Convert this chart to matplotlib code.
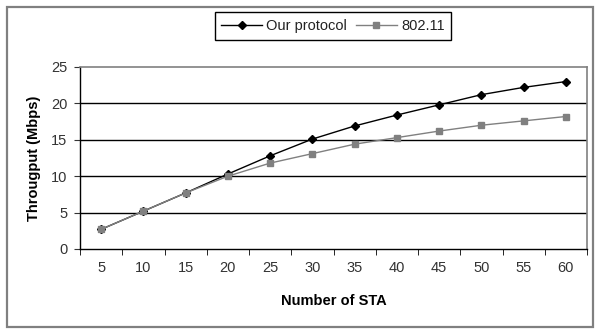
import matplotlib
matplotlib.use('Agg')
import matplotlib.pyplot as plt
from matplotlib.patches import Rectangle
import numpy as np

plt.rcParams['font.family'] = ['Liberation Sans', 'DejaVu Sans']

stations = ['5', '10', '15', '20', '25', '30', '35', '40', '45', '50', '55', '60']
ourProtocol = [2.7, 5.2, 7.7, 10.3, 12.8, 15.1, 16.9, 18.4, 19.8, 21.2, 22.2, 23.0]
ieee80211 = [2.7, 5.2, 7.7, 10.0, 11.8, 13.1, 14.4, 15.3, 16.2, 17.0, 17.6, 18.2]
yTicks = [0, 5, 10, 15, 20, 25]

W, H = 595, 331
fig = plt.figure(figsize=(W / 100, H / 100), dpi=100)
fig.patch.set_facecolor('white')

# outer chart frame
fig.patches.append(Rectangle((7 / W, 4 / H), 586 / W, 320 / H, transform=fig.transFigure,
                             fill=False, edgecolor='#808080', lw=1.6))

ax = fig.add_axes([80 / W, (H - 249) / H, 507 / W, 182 / H])
x = np.arange(len(stations))

ax.plot(x, ourProtocol, color='black', lw=1, marker='D', markersize=4.5,
        markerfacecolor='black', markeredgecolor='black', label='Our protocol', zorder=3)
ax.plot(x, ieee80211, color='#808080', lw=1, marker='s', markersize=5,
        markerfacecolor='#808080', markeredgecolor='#808080', label='802.11', zorder=4)

ax.set_xlim(-0.5, len(stations) - 0.5)
ax.set_ylim(0, 25)
ax.set_yticks(yTicks)
ax.set_xticks(x)
ax.set_xticklabels(stations)
ax.set_xticks(np.arange(len(stations) + 1) - 0.5, minor=True)
ax.tick_params(axis='x', which='major', length=0, pad=9, labelsize=10.5, colors='#333333')
ax.tick_params(axis='x', which='minor', length=4, direction='out', color='black')
ax.tick_params(axis='y', length=4, direction='out', pad=5, labelsize=10.5, colors='#333333')

for v in yTicks[1:-1]:
    ax.axhline(v, color='black', lw=1, zorder=1)

for side in ['top', 'right']:
    ax.spines[side].set_color('#808080')
    ax.spines[side].set_linewidth(1.2)
for side in ['left', 'bottom']:
    ax.spines[side].set_color('black')
    ax.spines[side].set_linewidth(1)

ax.set_xlabel('Number of STA', fontsize=10.5, fontweight='bold', labelpad=13)
ax.set_ylabel('Througput (Mbps)', fontsize=10.5, fontweight='bold', labelpad=7)

leg = fig.legend(loc='center', bbox_to_anchor=(333 / W, 1 - 26 / H), ncol=2,
                 frameon=True, fancybox=False, framealpha=1, edgecolor='black',
                 fontsize=10.5, handlelength=2.8, columnspacing=0.6, handletextpad=0.3,
                 borderpad=0.45)
leg.get_frame().set_linewidth(1)
for t in leg.get_texts():
    t.set_color('#222222')

fig.savefig('out.png', dpi=100)
